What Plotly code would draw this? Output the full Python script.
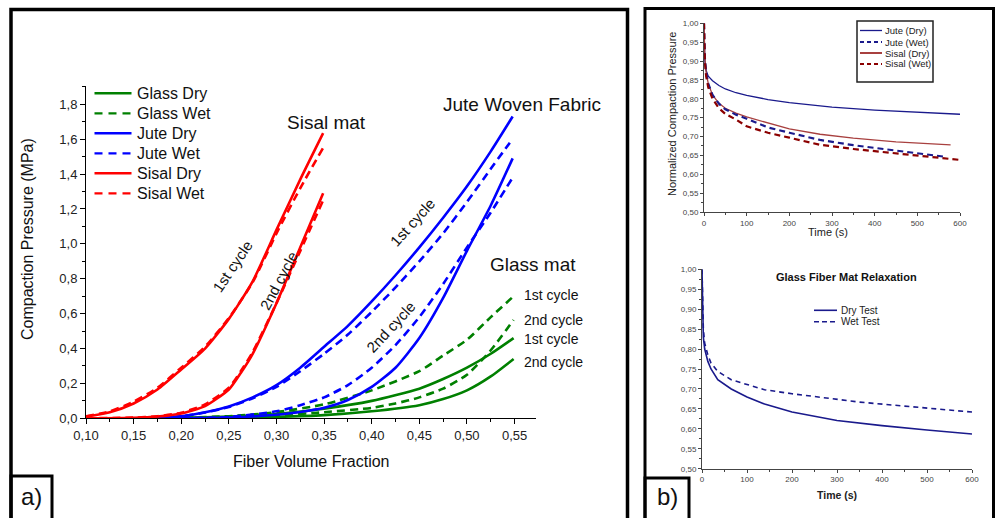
import plotly.graph_objects as go

# ---------------- data: panel a (compaction curves) ----------------
GLASS_DRY_1_X = [0.15, 0.20, 0.25, 0.30, 0.35, 0.40, 0.45, 0.475, 0.50, 0.525, 0.549]
GLASS_DRY_1_Y = [0.0, 0.003, 0.01, 0.025, 0.055, 0.10, 0.17, 0.225, 0.29, 0.37, 0.46]
GLASS_DRY_2_X = [0.20, 0.25, 0.30, 0.35, 0.40, 0.45, 0.475, 0.50, 0.525, 0.549]
GLASS_DRY_2_Y = [0.0, 0.003, 0.008, 0.018, 0.04, 0.075, 0.11, 0.16, 0.24, 0.34]
GLASS_WET_1_X = [0.15, 0.20, 0.25, 0.30, 0.35, 0.40, 0.45, 0.475, 0.50, 0.525, 0.549]
GLASS_WET_1_Y = [0.0, 0.003, 0.012, 0.035, 0.08, 0.16, 0.27, 0.36, 0.45, 0.58, 0.70]
GLASS_WET_2_X = [0.20, 0.25, 0.30, 0.35, 0.40, 0.425, 0.45, 0.475, 0.50, 0.525, 0.549]
GLASS_WET_2_Y = [0.0, 0.005, 0.015, 0.035, 0.06, 0.085, 0.12, 0.17, 0.25, 0.39, 0.564]

JUTE_1_X = [0.15, 0.175, 0.20, 0.225, 0.25, 0.275, 0.30, 0.325, 0.35, 0.375, 0.40,
            0.425, 0.45, 0.475, 0.50, 0.525, 0.548]
JUTE_DRY_1_Y = [0.0, 0.002, 0.012, 0.035, 0.068, 0.12, 0.19, 0.29, 0.41, 0.53, 0.67,
                0.82, 0.98, 1.15, 1.33, 1.53, 1.73]
JUTE_WET_1_X = [0.15, 0.175, 0.20, 0.225, 0.25, 0.275, 0.30, 0.325, 0.35, 0.375, 0.40,
                0.425, 0.45, 0.475, 0.50, 0.525, 0.545]
JUTE_WET_1_Y = [0.0, 0.002, 0.012, 0.033, 0.065, 0.115, 0.18, 0.27, 0.37, 0.48, 0.61,
                0.75, 0.90, 1.06, 1.24, 1.43, 1.58]
JUTE_2_X = [0.20, 0.25, 0.30, 0.325, 0.35, 0.375, 0.40, 0.425, 0.45, 0.475, 0.50, 0.525, 0.548]
JUTE_DRY_2_Y = [0.0, 0.004, 0.02, 0.036, 0.06, 0.105, 0.18, 0.29, 0.46, 0.69, 0.96, 1.22, 1.49]
JUTE_WET_2_Y = [0.0, 0.008, 0.04, 0.075, 0.12, 0.19, 0.29, 0.42, 0.58, 0.77, 0.98, 1.18, 1.38]

SISAL_1_X = [0.10, 0.125, 0.15, 0.175, 0.20, 0.225, 0.25, 0.275, 0.30, 0.325, 0.349]
SISAL_DRY_1_Y = [0.01, 0.035, 0.085, 0.165, 0.28, 0.40, 0.57, 0.785, 1.08, 1.37, 1.635]
SISAL_WET_1_Y = [0.012, 0.04, 0.095, 0.175, 0.29, 0.41, 0.575, 0.78, 1.06, 1.32, 1.55]
SISAL_2_X = [0.10, 0.15, 0.175, 0.20, 0.225, 0.25, 0.2625, 0.275, 0.30, 0.325, 0.349]
SISAL_DRY_2_Y = [0.0, 0.003, 0.01, 0.028, 0.07, 0.165, 0.26, 0.37, 0.66, 0.98, 1.29]
SISAL_WET_2_Y = [0.0, 0.004, 0.012, 0.032, 0.08, 0.175, 0.27, 0.38, 0.66, 0.96, 1.25]

# ---------------- data: panel b top (natural fibre relaxation) ----------------
T_JUTE_DRY = [0, 1, 2, 5, 10, 20, 35, 50, 75, 100, 150, 200, 300, 400, 500, 600]
P_JUTE_DRY = [1.0, 0.93, 0.90, 0.875, 0.86, 0.848, 0.835, 0.826, 0.816, 0.809, 0.798,
              0.79, 0.778, 0.77, 0.764, 0.759]
T_JUTE_WET = [0, 1, 2, 5, 10, 20, 35, 50, 75, 100, 150, 200, 272, 350, 450, 560]
P_JUTE_WET = [1.0, 0.94, 0.91, 0.87, 0.84, 0.81, 0.787, 0.772, 0.758, 0.747, 0.724,
              0.71, 0.691, 0.677, 0.662, 0.647]
T_SISAL_DRY = [0, 1, 2, 5, 10, 20, 35, 50, 75, 100, 150, 200, 272, 350, 450, 578]
P_SISAL_DRY = [1.0, 0.94, 0.91, 0.87, 0.84, 0.81, 0.788, 0.775, 0.762, 0.752, 0.735,
               0.72, 0.706, 0.696, 0.686, 0.678]
T_SISAL_WET = [0, 1, 2, 5, 10, 20, 35, 50, 75, 100, 150, 200, 272, 350, 450, 500, 600]
P_SISAL_WET = [1.0, 0.93, 0.90, 0.86, 0.83, 0.80, 0.775, 0.76, 0.745, 0.727, 0.71,
               0.697, 0.678, 0.667, 0.655, 0.65, 0.638]

# ---------------- data: panel b bottom (glass mat relaxation) ----------------
T_GLASS_DRY = [0, 1, 3, 6, 13, 20, 35, 65, 100, 139, 200, 300, 400, 500, 600]
P_GLASS_DRY = [1.0, 0.90, 0.83, 0.80, 0.769, 0.75, 0.723, 0.70, 0.68, 0.662, 0.642,
               0.621, 0.608, 0.597, 0.587]
T_GLASS_WET = [0, 1, 3, 6, 13, 20, 35, 65, 100, 139, 200, 272, 350, 450, 521, 600]
P_GLASS_WET = [1.0, 0.91, 0.85, 0.815, 0.785, 0.765, 0.744, 0.723, 0.712, 0.698, 0.688,
               0.677, 0.667, 0.657, 0.65, 0.642]

# ---------------- figure geometry helpers ----------------
W, H = 995, 518
FONT = "Liberation Sans, Arial, Helvetica, sans-serif"


def px(x):
    return x / W


def py(y):
    return 1 - y / H


GREEN, BLUE, RED = "#008000", "#0000ff", "#ff0000"
NAVY, SDRY, SWET = "#1a1a8c", "#a8403f", "#8b0000"
DASH_A = "8px,5px"

fig = go.Figure()


def add_a(name, color, dashed, xs, ys):
    fig.add_trace(go.Scatter(
        x=xs, y=ys, mode="lines", name=name, showlegend=False,
        line=dict(color=color, width=2.6, dash=DASH_A if dashed else "solid",
                  shape="spline", smoothing=0.6),
        xaxis="x", yaxis="y", hoverinfo="skip"))


add_a("Glass Dry", GREEN, False, GLASS_DRY_1_X, GLASS_DRY_1_Y)
add_a("Glass Dry", GREEN, False, GLASS_DRY_2_X, GLASS_DRY_2_Y)
add_a("Glass Wet", GREEN, True, GLASS_WET_1_X, GLASS_WET_1_Y)
add_a("Glass Wet", GREEN, True, GLASS_WET_2_X, GLASS_WET_2_Y)
add_a("Jute Dry", BLUE, False, JUTE_1_X, JUTE_DRY_1_Y)
add_a("Jute Dry", BLUE, False, JUTE_2_X, JUTE_DRY_2_Y)
add_a("Jute Wet", BLUE, True, JUTE_WET_1_X, JUTE_WET_1_Y)
add_a("Jute Wet", BLUE, True, JUTE_2_X, JUTE_WET_2_Y)
add_a("Sisal Dry", RED, False, SISAL_1_X, SISAL_DRY_1_Y)
add_a("Sisal Dry", RED, False, SISAL_2_X, SISAL_DRY_2_Y)
add_a("Sisal Wet", RED, True, SISAL_1_X, SISAL_WET_1_Y)
add_a("Sisal Wet", RED, True, SISAL_2_X, SISAL_WET_2_Y)

# panel b top
fig.add_trace(go.Scatter(x=T_JUTE_DRY, y=P_JUTE_DRY, mode="lines", name="Jute (Dry)",
                         showlegend=False, line=dict(color=NAVY, width=1.3),
                         xaxis="x2", yaxis="y2", hoverinfo="skip"))
fig.add_trace(go.Scatter(x=T_SISAL_DRY, y=P_SISAL_DRY, mode="lines", name="Sisal (Dry)",
                         showlegend=False, line=dict(color=SDRY, width=1.3),
                         xaxis="x2", yaxis="y2", hoverinfo="skip"))
fig.add_trace(go.Scatter(x=T_JUTE_WET, y=P_JUTE_WET, mode="lines", name="Jute (Wet)",
                         showlegend=False, line=dict(color=NAVY, width=2.2, dash="6px,4px"),
                         xaxis="x2", yaxis="y2", hoverinfo="skip"))
fig.add_trace(go.Scatter(x=T_SISAL_WET, y=P_SISAL_WET, mode="lines", name="Sisal (Wet)",
                         showlegend=False, line=dict(color=SWET, width=2.2, dash="6px,4px"),
                         xaxis="x2", yaxis="y2", hoverinfo="skip"))

# panel b bottom
fig.add_trace(go.Scatter(x=T_GLASS_DRY, y=P_GLASS_DRY, mode="lines", name="Dry Test",
                         showlegend=False, line=dict(color=NAVY, width=1.6),
                         xaxis="x3", yaxis="y3", hoverinfo="skip"))
fig.add_trace(go.Scatter(x=T_GLASS_WET, y=P_GLASS_WET, mode="lines", name="Wet Test",
                         showlegend=False, line=dict(color=NAVY, width=1.6, dash="5px,4px"),
                         xaxis="x3", yaxis="y3", hoverinfo="skip"))

# ---------------- axes ----------------
ax_a = dict(showline=True, linecolor="black", linewidth=1, ticks="outside", ticklen=5,
            tickwidth=1, tickcolor="black", showgrid=False, zeroline=False, automargin=False,
            tickfont=dict(family=FONT, size=13, color="#222"))
ax_b = dict(showline=True, linecolor="#444", linewidth=1, ticks="outside", ticklen=3,
            tickwidth=1, tickcolor="#444", showgrid=False, zeroline=False, automargin=False,
            tickfont=dict(family=FONT, size=8, color="#444"))

fig.update_layout(
    width=W, height=H, margin=dict(l=0, r=0, t=0, b=0, pad=0, autoexpand=False),
    paper_bgcolor="white", plot_bgcolor="white",
    separators=",.", showlegend=False,
    font=dict(family=FONT, color="#111"),
    xaxis=dict(domain=[px(86), px(536)], range=[0.10, 0.5725], tick0=0.10, dtick=0.05,
               tickformat=".2f", anchor="y",
               minor=dict(dtick=0.025, ticks="outside", ticklen=3, tickcolor="black"), **ax_a),
    yaxis=dict(domain=[py(418.3), py(86)], range=[0, 1.905], tick0=0, dtick=0.2,
               tickformat=".1f", anchor="x",
               minor=dict(dtick=0.1, ticks="outside", ticklen=3, tickcolor="black"), **ax_a),
    xaxis2=dict(domain=[px(704), px(960)], range=[0, 600], dtick=100, anchor="y2",
                minor=dict(dtick=50, ticks="outside", ticklen=2, tickcolor="#444"), **ax_b),
    yaxis2=dict(domain=[py(212), py(23.3)], range=[0.5, 1.0], dtick=0.05, tickformat=".2f",
                anchor="x2",
                minor=dict(dtick=0.025, ticks="outside", ticklen=2, tickcolor="#444"), **ax_b),
    xaxis3=dict(domain=[px(702), px(972)], range=[0, 600], dtick=100, anchor="y3",
                minor=dict(dtick=50, ticks="outside", ticklen=2, tickcolor="#444"), **ax_b),
    yaxis3=dict(domain=[py(468.7), py(269.3)], range=[0.5, 1.0], dtick=0.05, tickformat=".2f",
                anchor="x3",
                minor=dict(dtick=0.025, ticks="outside", ticklen=2, tickcolor="#444"), **ax_b),
)

# ---------------- frames, boxes, legend samples ----------------
shapes = [
    dict(type="rect", xref="paper", yref="paper", x0=px(11), x1=px(627.5), y0=py(9.5),
         y1=py(540), line=dict(color="black", width=3.5)),
    dict(type="rect", xref="paper", yref="paper", x0=px(645), x1=px(993.5), y0=py(8.5),
         y1=py(540), line=dict(color="black", width=3)),
    dict(type="rect", xref="paper", yref="paper", x0=px(11), x1=px(52), y0=py(476),
         y1=py(540), line=dict(color="black", width=3)),
    dict(type="rect", xref="paper", yref="paper", x0=px(645), x1=px(689), y0=py(478),
         y1=py(540), line=dict(color="black", width=3)),
    dict(type="rect", xref="paper", yref="paper", x0=px(857), x1=px(933), y0=py(21),
         y1=py(82), line=dict(color="#222", width=1.5), fillcolor="white", layer="above"),
]

LEG_A = [("Glass Dry", GREEN, "solid", 2.6, 93.3), ("Glass Wet", GREEN, "8px,6px", 2.2, 113.3),
         ("Jute Dry", BLUE, "solid", 2.6, 133.3), ("Jute Wet", BLUE, "8px,6px", 2.2, 153.3),
         ("Sisal Dry", RED, "solid", 2.6, 173.3), ("Sisal Wet", RED, "8px,6px", 2.2, 193.3)]
LEG_B1 = [("Jute (Dry)", NAVY, "solid", 1.3, 30.5), ("Jute (Wet)", NAVY, "4px,3px", 1.8, 42),
          ("Sisal (Dry)", SDRY, "solid", 2.0, 53), ("Sisal (Wet)", SWET, "4px,3px", 1.8, 64)]
LEG_B2 = [("Dry Test", NAVY, "solid", 1.6, 310.3), ("Wet Test", NAVY, "5px,3px", 1.6, 321.7)]

ann = []


def text(t, x, y, size, angle=0, xanchor="center", color="#111"):
    ann.append(dict(text=t, x=px(x), y=py(y), xref="paper", yref="paper", showarrow=False,
                    xanchor=xanchor, yanchor="middle", textangle=angle,
                    font=dict(family=FONT, size=size, color=color)))


def legend(entries, x0, x1, tx, size, color):
    for lbl, col, dsh, wd, yy in entries:
        shapes.append(dict(type="line", xref="paper", yref="paper", x0=px(x0), x1=px(x1),
                           y0=py(yy), y1=py(yy), line=dict(color=col, width=wd, dash=dsh),
                           layer="above"))
        text(lbl, tx, yy, size, xanchor="left", color=color)


legend(LEG_A, 94.5, 131.5, 135, 16, "#111")
legend(LEG_B1, 860, 882, 883, 9.5, "#222")
legend(LEG_B2, 814, 837, 838.5, 10, "#222")
fig.update_layout(shapes=shapes)

text("Compaction Pressure (MPa)", 27, 239, 16, angle=-90)
text("Fiber Volume Fraction", 311, 461, 16)
text("Sisal mat", 326, 123, 19)
text("Jute Woven Fabric", 522, 104, 19)
text("Glass mat", 533, 264, 19)
text("1st cycle", 232, 266, 15, angle=-56)
text("2nd cycle", 278, 281, 15, angle=-62)
text("1st cycle", 412, 222, 15, angle=-48)
text("2nd cycle", 390, 327, 15, angle=-47)
text("1st cycle", 522, 295, 14, xanchor="left")
text("2nd cycle", 522, 320, 14, xanchor="left")
text("1st cycle", 522, 339, 14, xanchor="left")
text("2nd cycle", 522, 362, 14, xanchor="left")
text("a)", 31, 496, 24)
text("b)", 667, 496, 24)
text("Normalized Compaction Pressure", 672, 114, 11, angle=-90, color="#222")
text("Time (s)", 828, 232, 11, color="#222")
text("<b>Glass Fiber Mat Relaxation</b>", 846, 277, 11)
text("<b>Time (s)</b>", 837, 495, 10.5, color="#222")
fig.update_layout(annotations=ann)

fig.write_html("out.html", config={"displayModeBar": False, "staticPlot": True},
               post_script="document.body.style.margin='0';document.body.style.padding='0';")
